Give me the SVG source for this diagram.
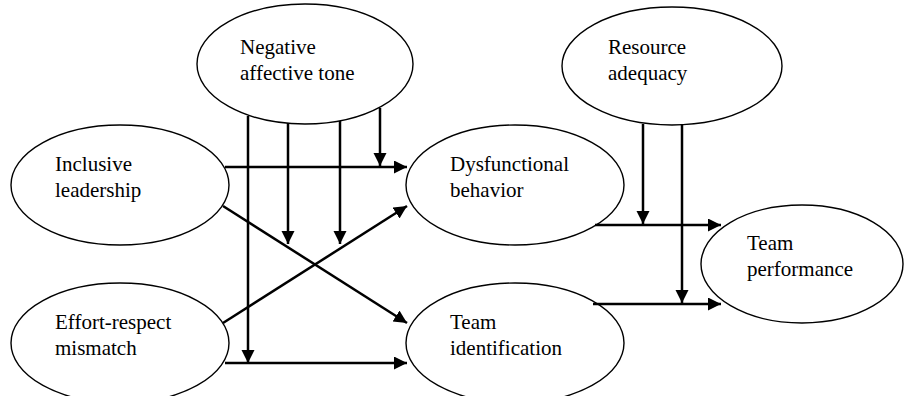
<svg xmlns="http://www.w3.org/2000/svg" width="905" height="396" viewBox="0 0 905 396">
<style>
.node ellipse{fill:#fff;stroke:#000;stroke-width:1.4}
.node text{font-family:"Liberation Serif","Times New Roman",serif;font-size:21px;fill:#000}
.conn path{fill:none;stroke:#000;stroke-width:2.5;marker-end:url(#ah)}
</style>
<defs>
<marker id="ah" markerUnits="userSpaceOnUse" markerWidth="14" markerHeight="14" refX="13" refY="6.5" orient="auto" viewBox="0 0 14 14">
<path d="M0,0 L13,6.5 L0,13 z" fill="#000"/>
</marker>
</defs>
<rect width="905" height="396" fill="#fff"/>
<g id="negative-affective-tone" class="node">
<ellipse cx="305" cy="64" rx="108" ry="60"/>
<text x="240" y="54">Negative</text>
<text x="240" y="80">affective tone</text>
</g>
<g id="resource-adequacy" class="node">
<ellipse cx="672" cy="66" rx="110" ry="59"/>
<text x="608" y="54">Resource</text>
<text x="608" y="80">adequacy</text>
</g>
<g id="inclusive-leadership" class="node">
<ellipse cx="120" cy="185" rx="109" ry="60"/>
<text x="55" y="171">Inclusive</text>
<text x="55" y="197">leadership</text>
</g>
<g id="effort-respect-mismatch" class="node">
<ellipse cx="120" cy="343" rx="109" ry="60"/>
<text x="55" y="329">Effort-respect</text>
<text x="55" y="355">mismatch</text>
</g>
<g id="dysfunctional-behavior" class="node">
<ellipse cx="515" cy="185" rx="109" ry="60"/>
<text x="450" y="171">Dysfunctional</text>
<text x="450" y="197">behavior</text>
</g>
<g id="team-identification" class="node">
<ellipse cx="515" cy="343" rx="109" ry="60"/>
<text x="450" y="329">Team</text>
<text x="450" y="355">identification</text>
</g>
<g id="team-performance" class="node">
<ellipse cx="802" cy="264" rx="101" ry="59"/>
<text x="747" y="250">Team</text>
<text x="747" y="276">performance</text>
</g>
<g id="connectors" class="conn">
<path d="M225,167 L407,167"/>
<path d="M223,206 L407,323"/>
<path d="M223,323 L407,206"/>
<path d="M225,363 L407,363"/>
<path d="M248,116 L248,363"/>
<path d="M288,123 L288,244"/>
<path d="M340,121 L340,244"/>
<path d="M380,108 L380,166"/>
<path d="M595,225 L721,225"/>
<path d="M593,304 L721,304"/>
<path d="M643,124 L643,224"/>
<path d="M682,124 L682,303"/>
</g>
</svg>
